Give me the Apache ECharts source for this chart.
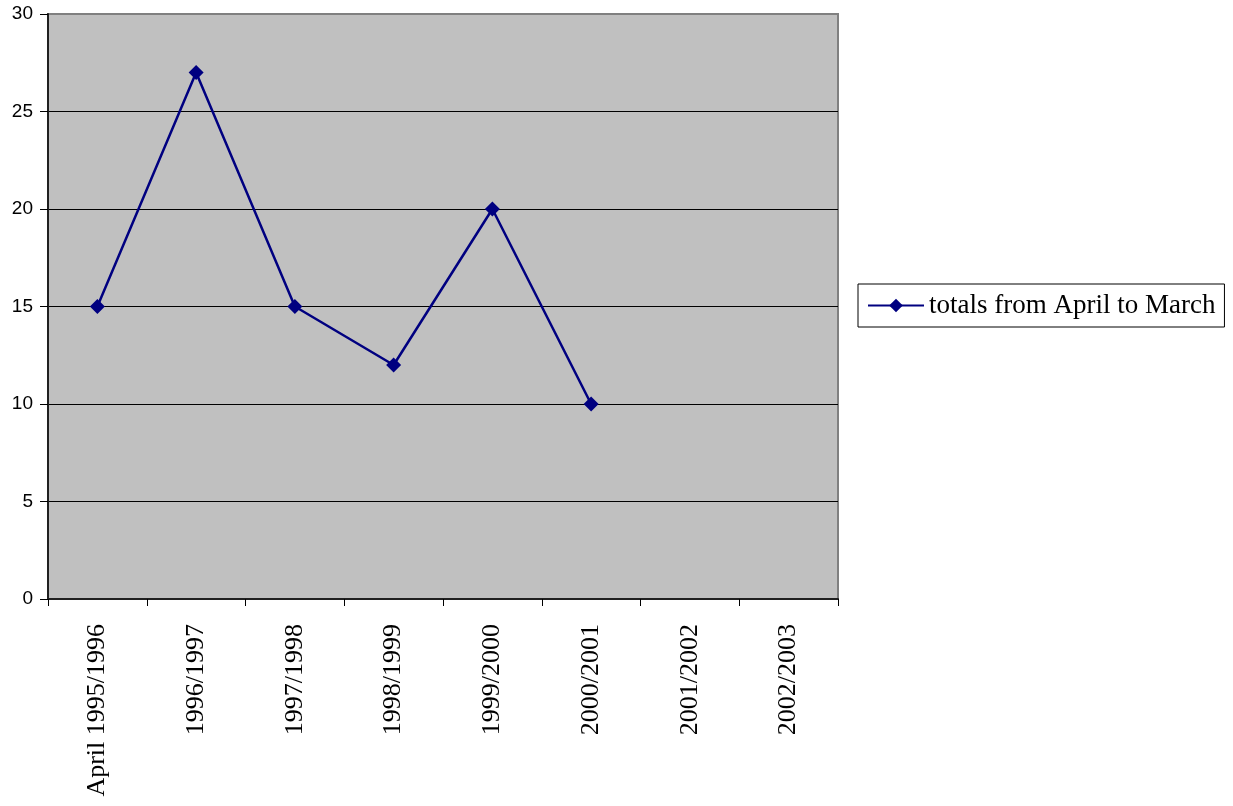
<!DOCTYPE html>
<html>
<head>
<meta charset="utf-8">
<script src="https://cdn.jsdelivr.net/npm/echarts@6/dist/echarts.min.js"></script>
<style>
  html, body { margin: 0; padding: 0; background: #ffffff; }
  #chart { width: 1233px; height: 806px; }
</style>
</head>
<body>
<div id="chart"></div>
<script>
// Financial years on the category axis
const categories = ['April 1995/1996', '1996/1997', '1997/1998', '1998/1999', '1999/2000', '2000/2001', '2001/2002', '2002/2003'];
// Yearly totals (April to March); later years have no data yet
const totals = [15, 27, 15, 12, 20, 10, null, null];
const seriesName = 'totals from April to March';

const chart = echarts.init(document.getElementById('chart'), null, { renderer: 'canvas' });

chart.setOption({
  backgroundColor: '#ffffff',
  animation: false,
  grid: {
    left: 48, top: 14, right: 395, bottom: 207,
    show: true,
    backgroundColor: '#c0c0c0',
    borderColor: '#808080',
    borderWidth: 2,
    containLabel: false
  },
  legend: {
    orient: 'vertical',
    left: 858, top: 284,
    padding: [8, 9, 8, 9],
    borderColor: '#000000',
    borderWidth: 1,
    itemWidth: 56,
    itemHeight: 17,
    itemGap: 0,
    textStyle: { fontFamily: 'Liberation Serif', fontSize: 27, color: '#000000' },
    data: [seriesName]
  },
  xAxis: {
    type: 'category',
    data: categories,
    boundaryGap: true,
    axisLine: { lineStyle: { color: '#202020', width: 2 } },
    axisTick: { show: true, length: 7, interval: 0, lineStyle: { color: '#000000' } },
    axisLabel: {
      rotate: 90,
      interval: 0,
      margin: 25,
      fontFamily: 'Liberation Serif',
      fontSize: 26,
      color: '#000000'
    },
    splitLine: { show: false }
  },
  yAxis: {
    type: 'value',
    min: 0, max: 30, interval: 5,
    axisLine: { show: true, lineStyle: { color: '#202020', width: 2 } },
    axisTick: { show: true, length: 8, lineStyle: { color: '#000000' } },
    axisLabel: {
      margin: 15,
      fontFamily: 'Liberation Sans',
      fontSize: 19,
      color: '#000000'
    },
    // gridlines are black; the topmost one sits on the grey plot frame
    splitLine: {
      show: true,
      lineStyle: {
        color: ['#000000', '#000000', '#000000', '#000000', '#000000', '#000000', '#808080'],
        width: 1
      }
    }
  },
  series: [{
    name: seriesName,
    type: 'line',
    data: totals,
    connectNulls: false,
    symbol: 'diamond',
    symbolSize: 15,
    lineStyle: { color: '#000080', width: 2.5 },
    itemStyle: { color: '#000080' }
  }]
});
</script>
</body>
</html>
